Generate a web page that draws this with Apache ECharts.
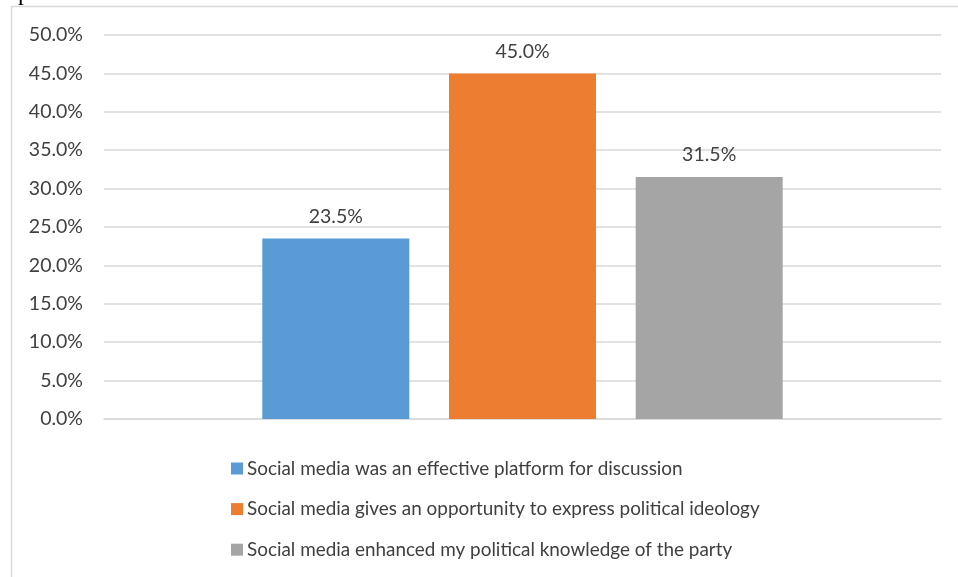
<!DOCTYPE html>
<html><head><meta charset="utf-8">
<script src="https://cdn.jsdelivr.net/npm/echarts@6/dist/echarts.min.js"></script>
<style>html,body{margin:0;padding:0;background:#fff}#c{width:958px;height:577px}</style>
</head><body><div id="c"></div>
<script>
const categories = [''];
const seriesNames = [
  'Social media was an effective platform for discussion',
  'Social media gives an opportunity to express political ideology',
  'Social media enhanced my political knowledge of the party'
];
const seriesValues = [23.5, 45.0, 31.5];
const seriesColors = ['#5b9bd5', '#ed7d31', '#a5a5a5'];
const yTicks = { min: 0, max: 50, interval: 5 };

const FONT = 'Lato, "Open Sans", sans-serif';
const chart = echarts.init(document.getElementById('c'));
chart.setOption({
  animation: false,
  graphic: [
    { type: 'rect', shape: { x: 11.5, y: 6.5, width: 1000, height: 700 }, style: { fill: 'none', stroke: '#d9d9d9', lineWidth: 1.5 } },
    { type: 'text', left: 18, top: -18, style: { text: 'p', font: '24px "Liberation Serif"', fill: '#000' } }
  ],
  grid: { left: 104, right: 17, top: 35, bottom: 158 },
  legend: {
    orient: 'vertical', left: 231, top: 459, itemGap: 21.6, padding: 0,
    itemWidth: 12, itemHeight: 12, icon: 'rect',
    textStyle: { fontFamily: FONT, fontSize: 18.9, color: '#404040', padding: [0, 0, 0, -1] },
    data: seriesNames
  },
  xAxis: {
    type: 'category', data: categories,
    axisLine: { show: true, lineStyle: { color: '#d9d9d9', width: 1.5 } },
    axisTick: { show: false }, axisLabel: { show: false }
  },
  yAxis: {
    type: 'value', min: yTicks.min, max: yTicks.max, interval: yTicks.interval,
    axisLine: { show: false }, axisTick: { show: false },
    splitLine: { lineStyle: { color: '#d9d9d9', width: 1.5 } },
    axisLabel: { formatter: v => v.toFixed(1) + '%', fontFamily: FONT, fontSize: 19.5, color: '#404040', margin: 21 }
  },
  series: seriesNames.map((n, i) => ({
    name: n, type: 'bar',
    data: [seriesValues[i]],
    barWidth: 147, barGap: '27%',
    itemStyle: { color: seriesColors[i] },
    label: { show: true, position: 'top', distance: 12, formatter: p => p.value.toFixed(1) + '%', fontFamily: FONT, fontSize: 19.5, color: '#404040' }
  }))
});
</script></body></html>
